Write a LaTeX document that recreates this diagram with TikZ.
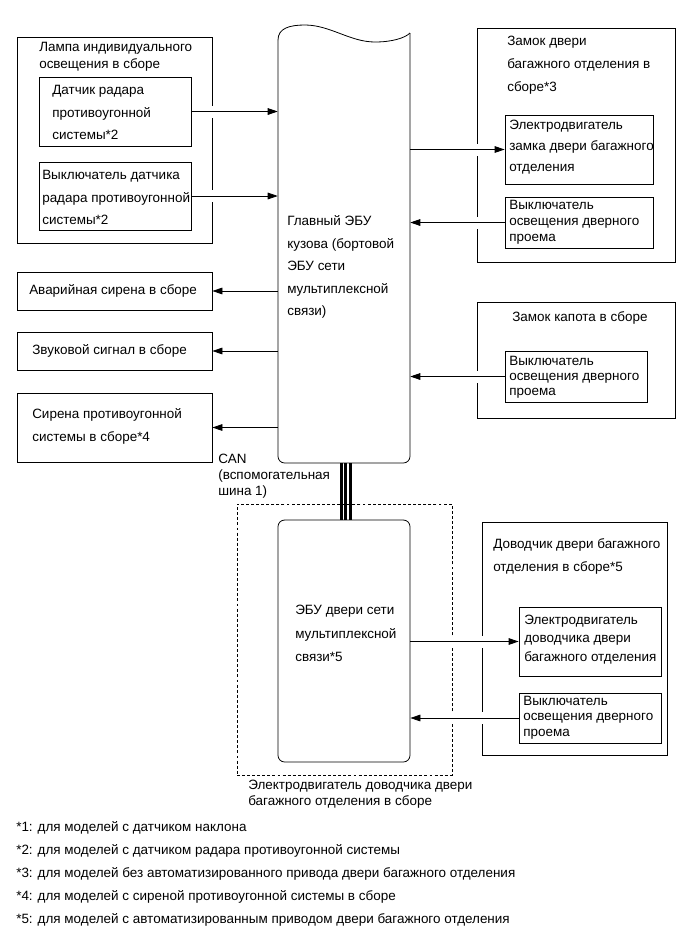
\documentclass[tikz,border=0pt]{standalone}
\usepackage{fontspec}
\setmainfont{Liberation Sans}
\usetikzlibrary{arrows.meta,fit,calc}
\newcommand\mygap[1]{\fill[white] ($#1+(-2,-6)$) rectangle ++(4,12);}
\begin{document}
\begin{tikzpicture}[x=0.75pt,y=-0.75pt,
 box/.style={draw, line width=0.6pt, inner sep=0pt},
 txt/.style={inner sep=0pt, align=left, anchor=west, font=\fontsize{10.1}{#1}\selectfont},
 txt/.default=12pt,
 arr/.style={line width=0.6pt, -{Triangle[length=7.5pt,width=5pt]}},
 ln/.style={line width=0.6pt},
]
\useasboundingbox (0,0) rectangle (689,951);

% left group
\node[box, fit={(17,37) (212,243)}] (lampa) {};
\node[box, fit={(39,77) (191,146)}] (b1) {};
\node[box, fit={(39,162) (191,230)}] (b2) {};
\node[box, fit={(17,272) (212,310)}] (avar) {};
\node[box, fit={(17,332) (212,370)}] (zvuk) {};
\node[box, fit={(17,393) (212,462)}] (siren) {};

% main ECU
\node[inner sep=0pt, fit={(278,25) (410,463)}] (ecu) {};
\draw[ln] (278,40) .. controls (278,28) and (290,25) .. (305,25)
  .. controls (330,25) and (350,42) .. (375,42)
  .. controls (392,42) and (405,38) .. (410,33);
\draw[ln, rounded corners=5pt] (410,33) -- (410,463) -- (278,463) -- (278,40);

% right groups
\node[box, fit={(477,28) (675,262)}] (zamok) {};
\node[box, fit={(505,115) (653,184)}] (zm1) {};
\node[box, fit={(505,197) (653,248)}] (zm2) {};
\node[box, fit={(477,302) (675,418)}] (kapot) {};
\node[box, fit={(505,351) (647,402)}] (kp1) {};

% lower group
\node[box, dash pattern=on 2.2pt off 1.6pt, fit={(237,504) (452,775)}] (dash) {};
\node[box, rounded corners=5pt, fit={(278,520) (410,762)}] (ecu2) {};
\node[box, fit={(482,522) (667,755)}] (dov) {};
\node[box, fit={(519,607) (661,676)}] (dv1) {};
\node[box, fit={(519,693) (661,743)}] (dv2) {};

% CAN bus
\foreach \d in {-4.5,0,4.5}
  \draw[line width=2.25pt] ($(ecu.south)+(\d+1.5,0)$) -- ($(ecu2.north)+(\d+1.5,0)$);

% gaps where connectors cross outer frames
\mygap{(lampa.east |- b1)}
\mygap{(lampa.east |- b2)}
\mygap{(zamok.west |- zm1)}
\mygap{(zamok.west |- zm2)}
\mygap{(kapot.west |- kp1)}
\mygap{(dov.west |- dv1)}
\mygap{(dov.west |- dv2)}
\mygap{(dash.east |- dv1)}
\mygap{(dash.east |- dv2)}

% connectors
\draw[arr] (b1) -- (b1 -| ecu.west);
\draw[arr] (b2) -- (b2 -| ecu.west);
\draw[arr] (avar -| ecu.west) -- (avar);
\draw[arr] (zvuk -| ecu.west) -- (zvuk);
\draw[arr] (siren -| ecu.west) -- (siren);
\draw[arr] (zm1 -| ecu.east) -- (zm1);
\draw[arr] (zm2) -- (zm2 -| ecu.east);
\draw[arr] (kp1) -- (kp1 -| ecu.east);
\draw[arr] (dv1 -| ecu2.east) -- (dv1);
\draw[arr] (dv2) -- (dv2 -| ecu2.east);

% texts
\node[txt=12.75pt] (tlampa) at (39,57) {Лампа индивидуального\\освещения в сборе};
\node[txt=16.9pt] (tb1) at (52,112.5) {Датчик радара\\противоугонной\\системы*2};
\node[txt=16.9pt] (tb2) at (42,197.5) {Выключатель датчика\\радара противоугонной\\системы*2};
\node[txt] (tavar) at (29,291) {Аварийная сирена в сборе};
\node[txt] (tzvuk) at (32,351) {Звуковой сигнал в сборе};
\node[txt=17.25pt] (tsiren) at (32,426.5) {Сирена противоугонной\\системы в сборе*4};
\node[txt=12pt] (tcan) at (218,476) {CAN\\(вспомогательная\\шина 1)};
\node[txt=16.9pt] (tecu) at (287,267) {Главный ЭБУ\\кузова (бортовой\\ЭБУ сети\\мультиплексной\\связи)};
\node[txt=17.25pt] (tzamok) at (507,65) {Замок двери\\багажного отделения в\\сборе*3};
\node[txt=15.75pt] (tzm1) at (509,147) {Электродвигатель\\замка двери багажного\\отделения};
\node[txt=12pt] (tzm2) at (509,222) {Выключатель\\освещения дверного\\проема};
\node[txt] (tkapot) at (512,318) {Замок капота в сборе};
\node[txt=11.25pt] (tkp1) at (509,377) {Выключатель\\освещения дверного\\проема};
\node[txt=17.6pt] (tecu2) at (295,633.5) {ЭБУ двери сети\\мультиплексной\\связи*5};
\node[txt=17.25pt] (tdov) at (493,556.5) {Доводчик двери багажного\\отделения в сборе*5};
\node[txt=13.9pt] (tdv1) at (524,639.5) {Электродвигатель\\доводчика двери\\багажного отделения};
\node[txt=11.6pt] (tdv2) at (523,717.5) {Выключатель\\освещения дверного\\проема};
\node[txt=12pt] (tdash) at (248,794) {Электродвигатель доводчика двери\\багажного отделения в сборе};
\node[txt=17.25pt] (tnotes) at (16,874) {*1: для моделей с датчиком наклона\\*2: для моделей с датчиком радара противоугонной системы\\*3: для моделей без автоматизированного привода двери багажного отделения\\*4: для моделей с сиреной противоугонной системы в сборе\\*5: для моделей с автоматизированным приводом двери багажного отделения};
\end{tikzpicture}
\end{document}
